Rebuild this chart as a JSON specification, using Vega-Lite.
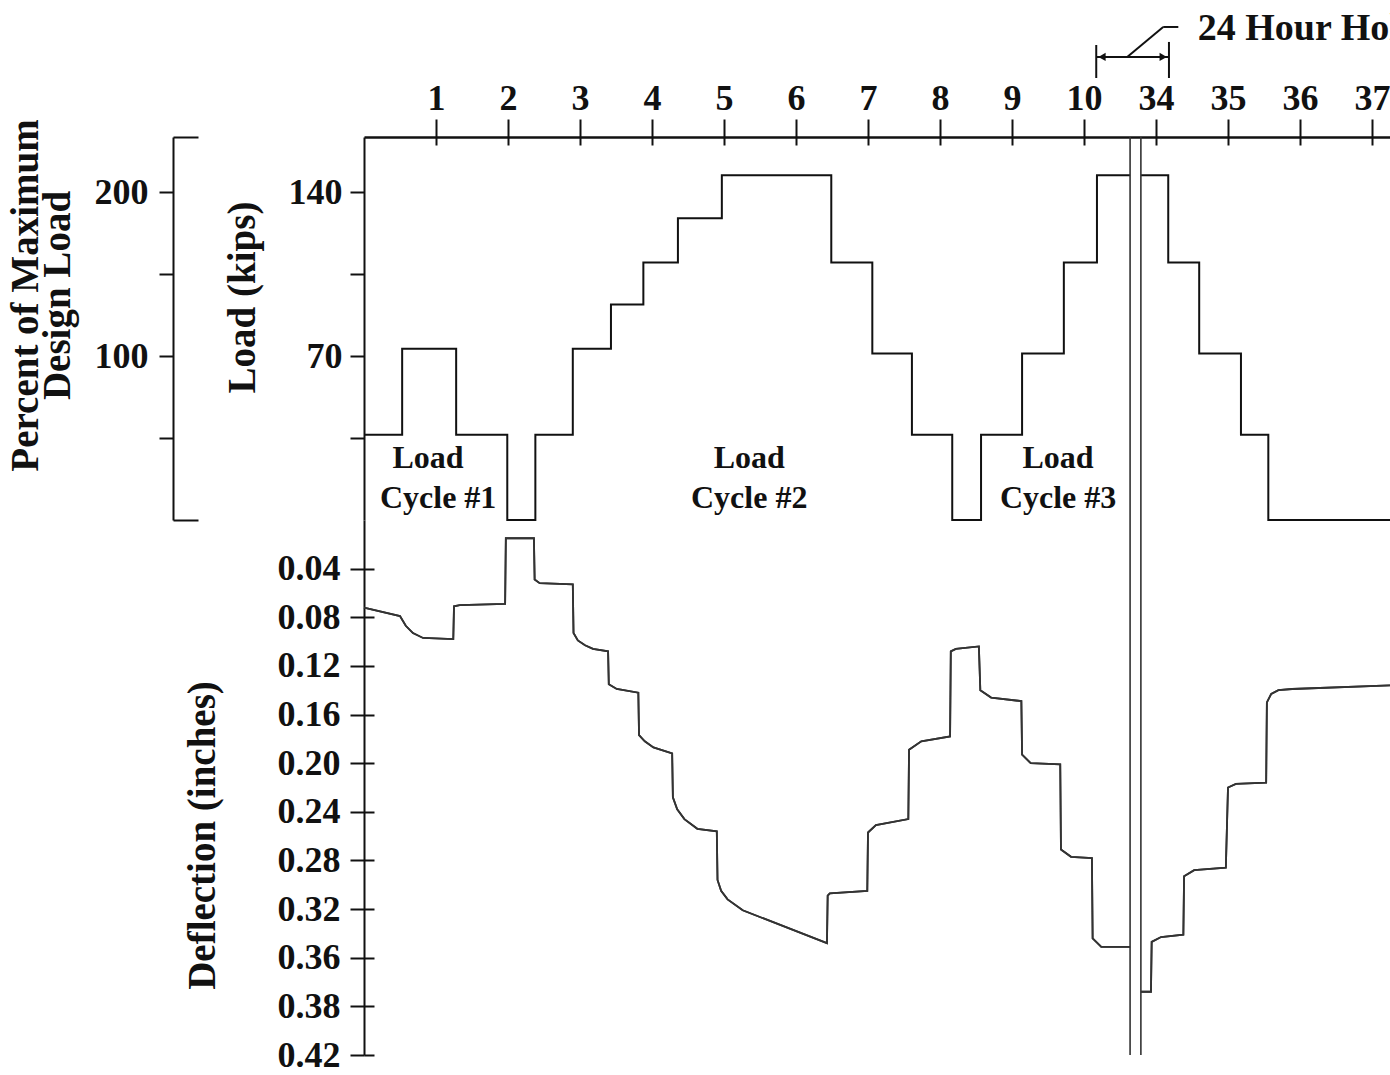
{
  "$schema": "https://vega.github.io/schema/vega-lite/v6.json",
  "width": 1026,
  "height": 918,
  "autosize": {"type": "none"},
  "padding": {"left": 364, "top": 137, "right": 0, "bottom": 20},
  "background": "white",
  "config": {
    "view": {"stroke": null},
    "axis": {
      "grid": false,
      "labelFont": "Liberation Serif",
      "labelFontWeight": "bold",
      "labelFontSize": 36,
      "labelColor": "#111",
      "titleFont": "Liberation Serif",
      "titleFontWeight": "bold",
      "titleFontSize": 39,
      "titleColor": "#111",
      "domainColor": "#111",
      "domainWidth": 2,
      "tickColor": "#111",
      "tickWidth": 2,
      "labelFlush": false,
      "labelOverlap": false
    }
  },
  "datasets": {
    "load": [
      {"t": 0, "load": 36.4, "seg": "a"},
      {"t": 0.53, "load": 36.4, "seg": "a"},
      {"t": 0.53, "load": 73.2, "seg": "a"},
      {"t": 1.28, "load": 73.2, "seg": "a"},
      {"t": 1.28, "load": 36.4, "seg": "a"},
      {"t": 1.99, "load": 36.4, "seg": "a"},
      {"t": 1.99, "load": 0, "seg": "a"},
      {"t": 2.38, "load": 0, "seg": "a"},
      {"t": 2.38, "load": 36.4, "seg": "a"},
      {"t": 2.9, "load": 36.4, "seg": "a"},
      {"t": 2.9, "load": 73.2, "seg": "a"},
      {"t": 3.43, "load": 73.2, "seg": "a"},
      {"t": 3.43, "load": 92.0, "seg": "a"},
      {"t": 3.88, "load": 92.0, "seg": "a"},
      {"t": 3.88, "load": 110.0, "seg": "a"},
      {"t": 4.36, "load": 110.0, "seg": "a"},
      {"t": 4.36, "load": 128.9, "seg": "a"},
      {"t": 4.97, "load": 128.9, "seg": "a"},
      {"t": 4.97, "load": 147.3, "seg": "a"},
      {"t": 6.49, "load": 147.3, "seg": "a"},
      {"t": 6.49, "load": 110.0, "seg": "a"},
      {"t": 7.06, "load": 110.0, "seg": "a"},
      {"t": 7.06, "load": 71.1, "seg": "a"},
      {"t": 7.61, "load": 71.1, "seg": "a"},
      {"t": 7.61, "load": 36.4, "seg": "a"},
      {"t": 8.17, "load": 36.4, "seg": "a"},
      {"t": 8.17, "load": 0, "seg": "a"},
      {"t": 8.57, "load": 0, "seg": "a"},
      {"t": 8.57, "load": 36.4, "seg": "a"},
      {"t": 9.14, "load": 36.4, "seg": "a"},
      {"t": 9.14, "load": 71.1, "seg": "a"},
      {"t": 9.72, "load": 71.1, "seg": "a"},
      {"t": 9.72, "load": 110.0, "seg": "a"},
      {"t": 10.18, "load": 110.0, "seg": "a"},
      {"t": 10.18, "load": 147.3, "seg": "a"},
      {"t": 10.64, "load": 147.3, "seg": "a"},
      {"t": 10.79, "load": 147.3, "seg": "b"},
      {"t": 11.17, "load": 147.3, "seg": "b"},
      {"t": 11.17, "load": 110.0, "seg": "b"},
      {"t": 11.6, "load": 110.0, "seg": "b"},
      {"t": 11.6, "load": 71.1, "seg": "b"},
      {"t": 12.18, "load": 71.1, "seg": "b"},
      {"t": 12.18, "load": 36.4, "seg": "b"},
      {"t": 12.56, "load": 36.4, "seg": "b"},
      {"t": 12.56, "load": 0, "seg": "b"},
      {"t": 14.25, "load": 0, "seg": "b"}
    ],
    "defl": [
      {"t": 0, "d": 0.072, "seg": "a"},
      {"t": 0.5, "d": 0.079, "seg": "a"},
      {"t": 0.58, "d": 0.087, "seg": "a"},
      {"t": 0.68, "d": 0.093, "seg": "a"},
      {"t": 0.82, "d": 0.097, "seg": "a"},
      {"t": 1.24, "d": 0.098, "seg": "a"},
      {"t": 1.25, "d": 0.071, "seg": "a"},
      {"t": 1.33, "d": 0.07, "seg": "a"},
      {"t": 1.96, "d": 0.069, "seg": "a"},
      {"t": 1.97, "d": 0.015, "seg": "a"},
      {"t": 2.36, "d": 0.015, "seg": "a"},
      {"t": 2.37, "d": 0.049, "seg": "a"},
      {"t": 2.44, "d": 0.052, "seg": "a"},
      {"t": 2.9, "d": 0.053, "seg": "a"},
      {"t": 2.91, "d": 0.093, "seg": "a"},
      {"t": 2.97, "d": 0.099, "seg": "a"},
      {"t": 3.07, "d": 0.103, "seg": "a"},
      {"t": 3.18, "d": 0.106, "seg": "a"},
      {"t": 3.39, "d": 0.108, "seg": "a"},
      {"t": 3.4, "d": 0.135, "seg": "a"},
      {"t": 3.51, "d": 0.139, "seg": "a"},
      {"t": 3.81, "d": 0.142, "seg": "a"},
      {"t": 3.82, "d": 0.177, "seg": "a"},
      {"t": 3.9, "d": 0.182, "seg": "a"},
      {"t": 4.02, "d": 0.187, "seg": "a"},
      {"t": 4.28, "d": 0.192, "seg": "a"},
      {"t": 4.29, "d": 0.228, "seg": "a"},
      {"t": 4.35, "d": 0.238, "seg": "a"},
      {"t": 4.45, "d": 0.246, "seg": "a"},
      {"t": 4.63, "d": 0.254, "seg": "a"},
      {"t": 4.9, "d": 0.256, "seg": "a"},
      {"t": 4.91, "d": 0.296, "seg": "a"},
      {"t": 4.96, "d": 0.305, "seg": "a"},
      {"t": 5.05, "d": 0.312, "seg": "a"},
      {"t": 5.26, "d": 0.321, "seg": "a"},
      {"t": 6.43, "d": 0.348, "seg": "a"},
      {"t": 6.44, "d": 0.309, "seg": "a"},
      {"t": 6.47, "d": 0.307, "seg": "a"},
      {"t": 6.99, "d": 0.305, "seg": "a"},
      {"t": 7.0, "d": 0.257, "seg": "a"},
      {"t": 7.11, "d": 0.251, "seg": "a"},
      {"t": 7.56, "d": 0.246, "seg": "a"},
      {"t": 7.57, "d": 0.189, "seg": "a"},
      {"t": 7.74, "d": 0.182, "seg": "a"},
      {"t": 8.14, "d": 0.178, "seg": "a"},
      {"t": 8.15, "d": 0.108, "seg": "a"},
      {"t": 8.22, "d": 0.106, "seg": "a"},
      {"t": 8.54, "d": 0.104, "seg": "a"},
      {"t": 8.56, "d": 0.14, "seg": "a"},
      {"t": 8.71, "d": 0.146, "seg": "a"},
      {"t": 9.13, "d": 0.149, "seg": "a"},
      {"t": 9.14, "d": 0.193, "seg": "a"},
      {"t": 9.26, "d": 0.2, "seg": "a"},
      {"t": 9.67, "d": 0.201, "seg": "a"},
      {"t": 9.68, "d": 0.271, "seg": "a"},
      {"t": 9.82, "d": 0.277, "seg": "a"},
      {"t": 10.11, "d": 0.278, "seg": "a"},
      {"t": 10.12, "d": 0.344, "seg": "a"},
      {"t": 10.24, "d": 0.351, "seg": "a"},
      {"t": 10.64, "d": 0.351, "seg": "a"},
      {"t": 10.79, "d": 0.388, "seg": "b"},
      {"t": 10.93, "d": 0.388, "seg": "b"},
      {"t": 10.94, "d": 0.347, "seg": "b"},
      {"t": 11.07, "d": 0.343, "seg": "b"},
      {"t": 11.38, "d": 0.341, "seg": "b"},
      {"t": 11.39, "d": 0.293, "seg": "b"},
      {"t": 11.53, "d": 0.288, "seg": "b"},
      {"t": 11.97, "d": 0.286, "seg": "b"},
      {"t": 12.0, "d": 0.22, "seg": "b"},
      {"t": 12.11, "d": 0.217, "seg": "b"},
      {"t": 12.53, "d": 0.216, "seg": "b"},
      {"t": 12.54, "d": 0.15, "seg": "b"},
      {"t": 12.6, "d": 0.143, "seg": "b"},
      {"t": 12.7, "d": 0.140, "seg": "b"},
      {"t": 12.89, "d": 0.139, "seg": "b"},
      {"t": 14.25, "d": 0.136, "seg": "b"}
    ],
    "breaks": [{"t": 10.64}, {"t": 10.79}],
    "labels": [
      {"t": 0.89, "load": 22.3, "text": "Load"},
      {"t": 1.03, "load": 5.1, "text": "Cycle #1"},
      {"t": 5.35, "load": 22.3, "text": "Load"},
      {"t": 5.35, "load": 5.1, "text": "Cycle #2"},
      {"t": 9.64, "load": 22.3, "text": "Load"},
      {"t": 9.64, "load": 5.1, "text": "Cycle #3"}
    ],
    "annot": [
      {"t1": 10.17, "l1": 202.9, "t2": 10.17, "l2": 188.8},
      {"t1": 11.18, "l1": 204.2, "t2": 11.18, "l2": 188.8},
      {"t1": 10.17, "l1": 197.8, "t2": 11.18, "l2": 197.8},
      {"t1": 10.6, "l1": 197.8, "t2": 11.1, "l2": 210.6},
      {"t1": 11.1, "l1": 210.6, "t2": 11.31, "l2": 210.6}
    ],
    "arrows": [
      {"t": 10.25, "l": 197.8, "dir": "left"},
      {"t": 11.1, "l": 197.8, "dir": "right"}
    ],
    "hold": [{"t": 11.58, "l": 205.1, "text": "24 Hour Hold"}]
  },
  "resolve": {"scale": {"x": "independent", "y": "independent"}},
  "layer": [
    {
      "data": {"name": "load"},
      "mark": {"type": "line", "color": "#111", "strokeWidth": 2, "interpolate": "linear"},
      "encoding": {
        "x": {"field": "t", "type": "quantitative",
          "scale": {"domain": [0, 14.25], "nice": false, "zero": false},
          "axis": {"orient": "top", "values": [1,2,3,4,5,6,7,8,9,10,11,12,13,14],
            "labelExpr": "datum.value <= 10 ? datum.label : '' + (datum.value + 23)",
            "tickSize": 18, "labelPadding": 2, "title": null, "domainWidth": 2.5}},
        "y": {"field": "load", "type": "quantitative",
          "scale": {"domain": [0, 163.6], "range": [383, 0], "nice": false, "zero": false},
          "axis": {"orient": "left", "values": [35, 70, 105, 140],
            "labelExpr": "(datum.value == 70 || datum.value == 140) ? datum.label : ''",
            "tickSize": 14, "labelPadding": 8, "title": "Load (kips)", "titleX": -102, "titleY": 160}},
        "detail": {"field": "seg", "type": "nominal"}
      }
    },
    {
      "data": {"name": "defl"},
      "mark": {"type": "line", "color": "#333", "strokeWidth": 1.8, "interpolate": "linear"},
      "encoding": {
        "x": {"field": "t", "type": "quantitative",
          "scale": {"domain": [0, 14.25], "nice": false, "zero": false},
          "axis": {"orient": "top", "values": [1,2,3,4,5,6,7,8,9,10,11,12,13,14],
            "tickSize": -8, "labels": false, "domain": false, "title": null}},
        "y": {"field": "d", "type": "quantitative",
          "scale": {"domain": [0, 0.44], "range": [383, 918], "nice": false, "zero": false},
          "axis": {"orient": "left", "values": [0.04, 0.08, 0.12, 0.16, 0.2, 0.24, 0.28, 0.32, 0.36, 0.4, 0.44],
            "labelExpr": "datum.value > 0.42 ? '0.42' : (datum.value > 0.39 ? '0.38' : format(datum.value, '.2f'))",
            "tickSize": 14, "labelPadding": 10, "title": "Deflection (inches)", "titleX": -142, "titleY": 698}},
        "detail": {"field": "seg", "type": "nominal"}
      }
    },
    {
      "data": {"name": "defl"},
      "mark": {"type": "line", "color": "#333", "strokeWidth": 1.8, "interpolate": "linear"},
      "encoding": {
        "x": {"field": "t", "type": "quantitative",
          "scale": {"domain": [0, 14.25], "nice": false, "zero": false}, "axis": null},
        "y": {"field": "d", "type": "quantitative",
          "scale": {"domain": [0, 0.44], "range": [383, 918], "nice": false, "zero": false},
          "axis": {"orient": "left", "values": [0.04, 0.08, 0.12, 0.16, 0.2, 0.24, 0.28, 0.32, 0.36, 0.4, 0.44],
            "tickSize": -10, "labels": false, "domain": false, "title": null}},
        "detail": {"field": "seg", "type": "nominal"}
      }
    },
    {
      "mark": {"type": "rule", "color": "#111", "strokeWidth": 2},
      "encoding": {
        "y": {"datum": 0, "type": "quantitative",
          "scale": {"domain": [0, 163.6], "range": [383, 0], "nice": false, "zero": false},
          "axis": {"orient": "left", "offset": 191, "values": [35, 70, 105, 140],
            "labelExpr": "datum.value == 140 ? '200' : (datum.value == 70 ? '100' : '')",
            "tickSize": 14, "labelPadding": 11,
            "title": ["Percent of Maximum", "Design Load"], "titleLineHeight": 32,
            "titleX": -128, "titleY": 158}}
      }
    },
    {
      "data": {"name": "breaks"},
      "mark": {"type": "rule", "color": "#333", "strokeWidth": 1.6},
      "encoding": {
        "x": {"field": "t", "type": "quantitative",
          "scale": {"domain": [0, 14.25], "nice": false, "zero": false}, "axis": null}
      }
    },
    {
      "data": {"name": "labels"},
      "mark": {"type": "text", "font": "Liberation Serif", "fontWeight": "bold", "fontSize": 32, "color": "#111", "align": "center", "baseline": "alphabetic"},
      "encoding": {
        "x": {"field": "t", "type": "quantitative",
          "scale": {"domain": [0, 14.25], "nice": false, "zero": false}, "axis": null},
        "y": {"field": "load", "type": "quantitative",
          "scale": {"domain": [0, 163.6], "range": [383, 0], "nice": false, "zero": false},
          "axis": {"orient": "right", "offset": -1217, "values": [0, 163.6], "tickSize": 25,
            "labels": false, "domain": false, "title": null}},
        "text": {"field": "text", "type": "nominal"}
      }
    },
    {
      "data": {"name": "annot"},
      "mark": {"type": "rule", "color": "#111", "strokeWidth": 2},
      "encoding": {
        "x": {"field": "t1", "type": "quantitative",
          "scale": {"domain": [0, 14.25], "nice": false, "zero": false}, "axis": null},
        "x2": {"field": "t2"},
        "y": {"field": "l1", "type": "quantitative",
          "scale": {"domain": [0, 163.6], "range": [383, 0], "nice": false, "zero": false}, "axis": null},
        "y2": {"field": "l2"}
      }
    },
    {
      "data": {"name": "arrows"},
      "mark": {"type": "point", "filled": true, "color": "#111", "opacity": 1, "size": 70},
      "encoding": {
        "x": {"field": "t", "type": "quantitative",
          "scale": {"domain": [0, 14.25], "nice": false, "zero": false}, "axis": null},
        "y": {"field": "l", "type": "quantitative",
          "scale": {"domain": [0, 163.6], "range": [383, 0], "nice": false, "zero": false}, "axis": null},
        "shape": {"field": "dir", "type": "nominal",
          "scale": {"domain": ["left", "right"], "range": ["triangle-left", "triangle-right"]}, "legend": null}
      }
    },
    {
      "data": {"name": "hold"},
      "mark": {"type": "text", "font": "Liberation Serif", "fontWeight": "bold", "fontSize": 38, "color": "#111", "align": "left", "baseline": "alphabetic"},
      "encoding": {
        "x": {"field": "t", "type": "quantitative",
          "scale": {"domain": [0, 14.25], "nice": false, "zero": false}, "axis": null},
        "y": {"field": "l", "type": "quantitative",
          "scale": {"domain": [0, 163.6], "range": [383, 0], "nice": false, "zero": false}, "axis": null},
        "text": {"field": "text", "type": "nominal"}
      }
    }
  ]
}
